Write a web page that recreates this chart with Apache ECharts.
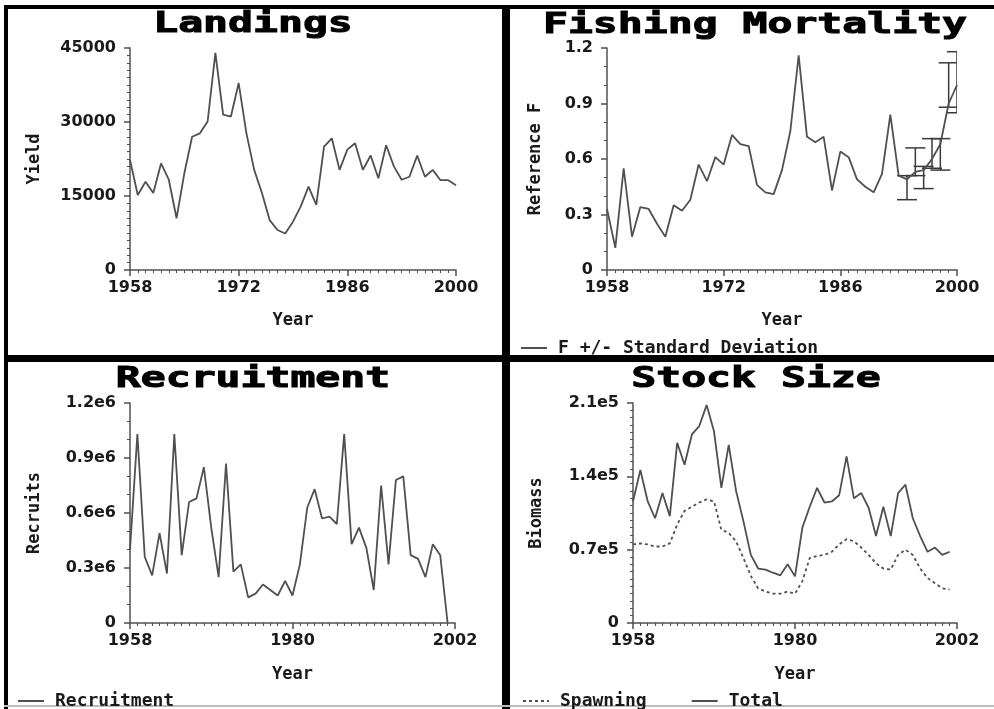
<!DOCTYPE html>
<html>
<head>
<meta charset="utf-8">
<script src="https://cdn.jsdelivr.net/npm/echarts@6/dist/echarts.min.js"></script>
<style>
html,body{margin:0;padding:0;background:#fff;}
#chart{width:994px;height:709px;}
</style>
</head>
<body>
<div id="chart"></div>
<script>
// ---------- DATA ----------
const yearsA = [1958,1959,1960,1961,1962,1963,1964,1965,1966,1967,1968,1969,1970,1971,1972,1973,1974,1975,1976,1977,1978,1979,1980,1981,1982,1983,1984,1985,1986,1987,1988,1989,1990,1991,1992,1993,1994,1995,1996,1997,1998,1999,2000];
const yearsB = [1958,1959,1960,1961,1962,1963,1964,1965,1966,1967,1968,1969,1970,1971,1972,1973,1974,1975,1976,1977,1978,1979,1980,1981,1982,1983,1984,1985,1986,1987,1988,1989,1990,1991,1992,1993,1994,1995,1996,1997,1998,1999,2000,2001];

const landings = [22300,15200,17900,15600,21600,18300,10500,19600,27000,27700,30100,44000,31500,31100,37900,27700,20300,15600,10100,8100,7400,9800,12900,16900,13200,25000,26700,20300,24400,25700,20300,23200,18600,25300,21000,18300,18900,23200,18900,20300,18200,18200,17200];

const fishingF = [0.33,0.12,0.55,0.18,0.34,0.33,0.25,0.18,0.35,0.32,0.38,0.57,0.48,0.61,0.57,0.73,0.68,0.67,0.46,0.42,0.41,0.54,0.75,1.16,0.72,0.69,0.72,0.43,0.64,0.61,0.49,0.45,0.42,0.52,0.84,0.51,0.49,0.53,0.54,0.60,0.68,0.90,1.00];
const sdYears = [1994,1995,1996,1997,1998,1999,2000];
const sdLow   = [0.38,0.51,0.44,0.55,0.54,0.88,0.85];
const sdHigh  = [0.51,0.66,0.56,0.71,0.71,1.12,1.18];

const recruits = [400000,1030000,360000,260000,490000,270000,1030000,370000,660000,680000,850000,520000,250000,870000,280000,320000,140000,160000,210000,180000,150000,230000,150000,320000,630000,730000,570000,580000,540000,1030000,430000,520000,410000,180000,750000,320000,780000,800000,370000,350000,250000,430000,370000,0];

const spawning = [75000,76000,75000,73000,73000,76000,94000,107000,111000,115000,118000,116000,89000,86000,78000,62000,45000,33000,30000,28000,28000,30000,28000,40000,62000,64000,65000,68000,75000,80000,78000,72000,65000,57000,52000,51000,65000,70000,65000,52000,43000,38000,33000,32000];
const total = [116000,146000,116000,100000,124000,102000,172000,151000,180000,188000,208000,183000,129000,170000,126000,97000,65000,52000,51000,48000,45500,56000,44500,91000,111000,129000,115000,116000,122000,159000,119000,124000,110000,83000,111000,83000,124000,132000,100000,83000,68000,72000,65000,68000];

const landTicks  = ['0','15000','30000','45000'];
const fishTicks  = ['0','0.3','0.6','0.9','1.2'];
const recTicks   = ['0','0.3e6','0.6e6','0.9e6','1.2e6'];
const stockTicks = ['0','0.7e5','1.4e5','2.1e5'];

// ---------- CHART ----------
const chart = echarts.init(document.getElementById('chart'));
const LINE = '#505050';
const AX = '#505050';
const TXT = '#1a1a1a';
const labelFont = {color: TXT, fontFamily: 'DejaVu Sans', fontWeight: 'bold', fontSize: 16};
const nameFont  = {color: TXT, fontFamily: 'DejaVu Sans Mono', fontWeight: 'bold', fontSize: 17};

function pairs(xs, ys){ return xs.map((x,i)=>[x, ys[i]]); }

function xAxisDef(gi, min, max, interval, splits, gap){
  return {
    type:'value', gridIndex: gi, min, max, interval,
    name:'Year', nameLocation:'middle', nameGap: gap, nameTextStyle: nameFont,
    axisLine:{show:true, onZero:false, lineStyle:{color:AX, width:1.5}},
    axisTick:{show:true, length:6, lineStyle:{color:AX, width:1.5}},
    minorTick:{show:true, splitNumber:splits, length:3, lineStyle:{color:AX, width:1}},
    splitLine:{show:false}, minorSplitLine:{show:false},
    axisLabel:Object.assign({margin:10, formatter:v=>String(v)}, labelFont)
  };
}
function yAxisDef(gi, max, interval, labels, name, gap, splits){
  return {
    type:'value', gridIndex: gi, min:0, max, interval,
    name, nameLocation:'middle', nameGap: gap, nameTextStyle: nameFont,
    axisLine:{show:true, onZero:false, lineStyle:{color:AX, width:1.5}},
    axisTick:{show:true, length:6, lineStyle:{color:AX, width:1.5}},
    minorTick:{show:true, splitNumber:splits, length:3, lineStyle:{color:AX, width:1}},
    splitLine:{show:false}, minorSplitLine:{show:false},
    axisLabel:Object.assign({margin:14, formatter:v=>labels[Math.round(v/interval)]}, labelFont)
  };
}
function lineSeries(name, xi, data, dashed){
  return {
    name, type:'line', xAxisIndex:xi, yAxisIndex:xi, data,
    symbol:'none', showSymbol:false, animation:false,
    itemStyle:{color:LINE},
    lineStyle:{color:LINE, width:1.8, type: dashed ? [3,3] : 'solid'}
  };
}
function renderSD(params, api){
  const x = api.value(0), lo = api.value(1), hi = api.value(2);
  const pL = api.coord([x, lo]), pH = api.coord([x, hi]);
  const hw = 10;
  const st = {stroke:'#3a3a3a', lineWidth:1.5, fill:null};
  return {type:'group', children:[
    {type:'line', shape:{x1:pL[0], y1:pL[1], x2:pH[0], y2:pH[1]}, style:st},
    {type:'line', shape:{x1:pL[0]-hw, y1:pL[1], x2:pL[0]+hw, y2:pL[1]}, style:st},
    {type:'line', shape:{x1:pH[0]-hw, y1:pH[1], x2:pH[0]+hw, y2:pH[1]}, style:st}
  ]};
}
function titleText(text, x, y){
  return {type:'text', x, y, scaleX:1.48, scaleY:1, z:10,
    style:{text, fill:'#000', stroke:'#000', lineWidth:1, font:'bold 28px "DejaVu Sans Mono"',
      textAlign:'center', textVerticalAlign:'middle', align:'center', verticalAlign:'middle'}};
}
const legendText = {color: TXT, fontFamily:'DejaVu Sans Mono', fontWeight:'bold', fontSize:18, padding:[0,0,0,6]};

const option = {
  backgroundColor:'#fff',
  animation:false,
  grid:[
    {left:130, top:48, width:326, height:222},
    {left:607, top:48, width:350, height:222},
    {left:130, top:403, width:325, height:220},
    {left:633, top:403, width:324, height:220}
  ],
  xAxis:[
    xAxisDef(0, 1958, 2000, 14, 14, 42),
    xAxisDef(1, 1958, 2000, 14, 14, 42),
    xAxisDef(2, 1958, 2002, 22, 22, 43),
    xAxisDef(3, 1958, 2002, 22, 22, 43)
  ],
  yAxis:[
    yAxisDef(0, 45000, 15000, landTicks, 'Yield', 87, 10),
    yAxisDef(1, 1.2, 0.3, fishTicks, 'Reference F', 63, 3),
    yAxisDef(2, 1200000, 300000, recTicks, 'Recruits', 87, 3),
    yAxisDef(3, 210000, 70000, stockTicks, 'Biomass', 88, 10)
  ],
  legend:[
    {data:['F +/- Standard Deviation'], left:515, top:334, itemWidth:26, itemHeight:2, selectedMode:false, textStyle:legendText},
    {data:['Recruitment'], left:12, top:687, itemWidth:26, itemHeight:2, selectedMode:false, textStyle:legendText},
    {data:['Spawning','Total'], left:517, top:687, itemGap:44, itemWidth:26, itemHeight:2, selectedMode:false, textStyle:legendText}
  ],
  series:[
    lineSeries('Landings', 0, pairs(yearsA, landings), false),
    lineSeries('F +/- Standard Deviation', 1, pairs(yearsA, fishingF), false),
    {name:'SD', type:'custom', xAxisIndex:1, yAxisIndex:1, renderItem:renderSD, clip:true,
      encode:{x:0, y:[1,2]}, data: sdYears.map((y,i)=>[y, sdLow[i], sdHigh[i]]), animation:false},
    lineSeries('Recruitment', 2, pairs(yearsB, recruits), false),
    lineSeries('Spawning', 3, pairs(yearsB, spawning), true),
    lineSeries('Total', 3, pairs(yearsB, total), false)
  ],
  graphic:[
    titleText('Landings', 253, 25),
    titleText('Fishing Mortality', 755, 26),
    titleText('Recruitment', 253, 380),
    titleText('Stock Size', 756, 380),
    // panel frame
    {type:'rect', shape:{x:4, y:5, width:990, height:4}, style:{fill:'#000'}},
    {type:'rect', shape:{x:4, y:5, width:4, height:704}, style:{fill:'#000'}},
    {type:'rect', shape:{x:502, y:5, width:8, height:704}, style:{fill:'#000'}},
    {type:'rect', shape:{x:4, y:355, width:990, height:7}, style:{fill:'#000'}},
    {type:'rect', shape:{x:4, y:705, width:990, height:2}, style:{fill:'#bbb'}}
  ]
};
chart.setOption(option);
</script>
</body>
</html>
